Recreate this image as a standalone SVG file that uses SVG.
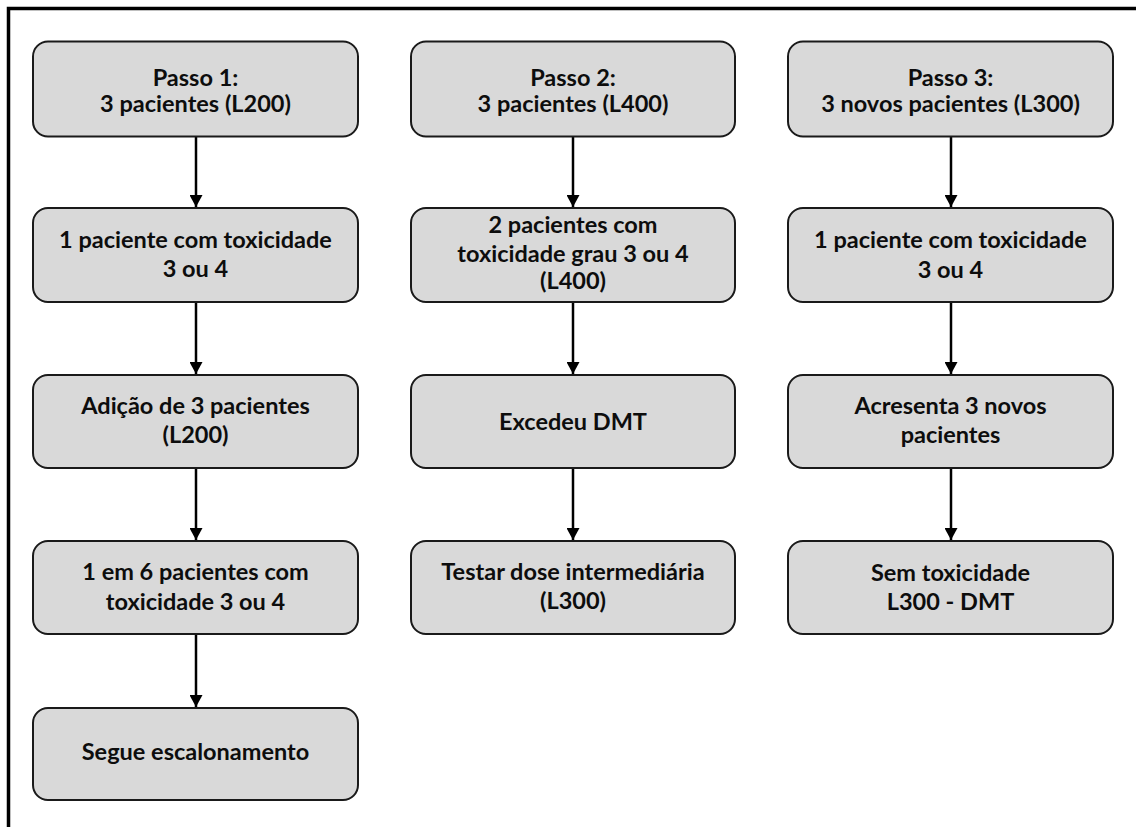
<svg xmlns="http://www.w3.org/2000/svg" width="1136" height="827" viewBox="0 0 1136 827">
<style>
.box{fill:#d9d9d9;stroke:#1a1a1a;stroke-width:2}
.t{font-family:Lato,"Open Sans","Liberation Sans",sans-serif;font-weight:700;font-size:23.5px;fill:#0d0d0d;text-anchor:middle}
.c{stroke:#000;stroke-width:2.5;fill:none;marker-end:url(#ah)}
.frame{stroke:#000;stroke-width:3.5;fill:none}
</style>
<defs>
<marker id="ah" markerUnits="userSpaceOnUse" markerWidth="13" markerHeight="13" refX="12" refY="6.5" orient="auto">
<path d="M0,0 L12,6.5 L0,13 z" fill="#000"/>
</marker>
</defs>
<rect width="1136" height="827" fill="#fff"/>
<path class="frame" d="M8.5,827 V8.5 H1136"/>
<g id="connectors">
<line class="c" x1="196" y1="136" x2="196" y2="207"/>
<line class="c" x1="196" y1="302" x2="196" y2="374"/>
<line class="c" x1="196" y1="468" x2="196" y2="540"/>
<line class="c" x1="196" y1="634" x2="196" y2="707"/>
<line class="c" x1="573" y1="136" x2="573" y2="207"/>
<line class="c" x1="573" y1="302" x2="573" y2="374"/>
<line class="c" x1="573" y1="468" x2="573" y2="540"/>
<line class="c" x1="951" y1="136" x2="951" y2="207"/>
<line class="c" x1="951" y1="302" x2="951" y2="374"/>
<line class="c" x1="951" y1="468" x2="951" y2="540"/>
</g>
<g id="n1a"><rect class="box" x="33" y="41.5" width="325" height="95" rx="15"/>
<text class="t" x="195.5" y="85.5">Passo 1:</text><text class="t" x="195.5" y="112">3 pacientes (L200)</text></g>
<g id="n1b"><rect class="box" x="33" y="208" width="325" height="94" rx="15"/>
<text class="t" x="195.5" y="248">1 paciente com toxicidade</text><text class="t" x="195.5" y="277">3 ou 4</text></g>
<g id="n1c"><rect class="box" x="33" y="375" width="325" height="93" rx="15"/>
<text class="t" x="195.5" y="414">Adição de 3 pacientes</text><text class="t" x="195.5" y="443">(L200)</text></g>
<g id="n1d"><rect class="box" x="33" y="541" width="325" height="93" rx="15"/>
<text class="t" x="195.5" y="580">1 em 6 pacientes com</text><text class="t" x="195.5" y="610">toxicidade 3 ou 4</text></g>
<g id="n1e"><rect class="box" x="33" y="708" width="325" height="92" rx="15"/>
<text class="t" x="195.5" y="760">Segue escalonamento</text></g>
<g id="n2a"><rect class="box" x="411" y="41.5" width="324" height="95" rx="15"/>
<text class="t" x="573" y="85.5">Passo 2:</text><text class="t" x="573" y="112">3 pacientes (L400)</text></g>
<g id="n2b"><rect class="box" x="411" y="208" width="324" height="94" rx="15"/>
<text class="t" x="573" y="233">2 pacientes com</text><text class="t" x="573" y="261.5">toxicidade grau 3 ou 4</text><text class="t" x="573" y="289">(L400)</text></g>
<g id="n2c"><rect class="box" x="411" y="375" width="324" height="93" rx="15"/>
<text class="t" x="573" y="430">Excedeu DMT</text></g>
<g id="n2d"><rect class="box" x="411" y="541" width="324" height="93" rx="15"/>
<text class="t" x="573" y="580">Testar dose intermediária</text><text class="t" x="573" y="609">(L300)</text></g>
<g id="n3a"><rect class="box" x="788" y="41.5" width="325" height="95" rx="15"/>
<text class="t" x="950.5" y="85.5">Passo 3:</text><text class="t" x="950.5" y="112">3 novos pacientes (L300)</text></g>
<g id="n3b"><rect class="box" x="788" y="208" width="325" height="94" rx="15"/>
<text class="t" x="950.5" y="247.5">1 paciente com toxicidade</text><text class="t" x="950.5" y="278">3 ou 4</text></g>
<g id="n3c"><rect class="box" x="788" y="375" width="325" height="93" rx="15"/>
<text class="t" x="950.5" y="413.5">Acresenta 3 novos</text><text class="t" x="950.5" y="443">pacientes</text></g>
<g id="n3d"><rect class="box" x="788" y="541" width="325" height="93" rx="15"/>
<text class="t" x="950.5" y="580.5">Sem toxicidade</text><text class="t" x="950.5" y="610">L300 - DMT</text></g>
</svg>
